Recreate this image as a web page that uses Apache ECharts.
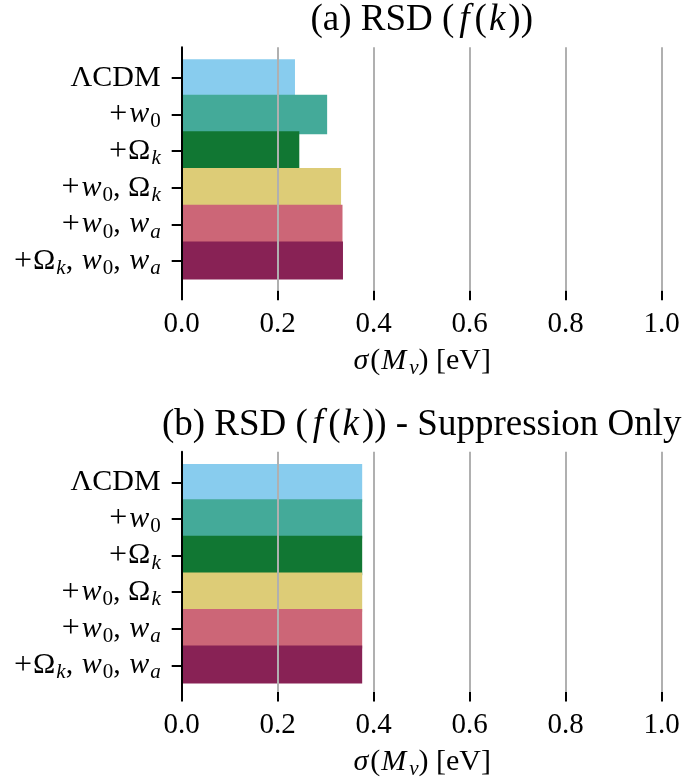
<!DOCTYPE html>
<html>
<head>
<meta charset="utf-8">
<script src="https://cdn.jsdelivr.net/npm/echarts@6/dist/echarts.min.js"></script>
<style>
  html, body { margin: 0; padding: 0; background: #fff; }
  #chart { width: 686px; height: 781px; }
</style>
</head>
<body>
<div id="chart"></div>
<script>
// Model extensions, top to bottom
const models = ['ΛCDM', '+w0', '+Ωk', '+w0,Ωk', '+w0,wa', '+Ωk,w0,wa'];
// Forecast 1σ error on the neutrino mass sum [eV]
const sigmaFull = [0.236, 0.303, 0.245, 0.332, 0.335, 0.336];
const sigmaSuppression = [0.376, 0.376, 0.376, 0.376, 0.376, 0.376];
const barColors = ['#88CCEE', '#44AA99', '#117733', '#DDCC77', '#CC6677', '#882255'];
const xTicks = [0.0, 0.2, 0.4, 0.6, 0.8, 1.0];
const panelTitles = [
  '(a) RSD ({f|f}({k|k}))',
  '(b) RSD ({f|f}({k|k})) - Suppression Only'
];
const xName = '{v|σ}({v|M}{si|ν}) [eV]';

// Math-style markup for the model labels
const modelMarkup = {
  'ΛCDM': 'ΛCDM',
  '+w0': '{p|+}{m|w}{s|0}',
  '+Ωk': '{p|+}Ω{si|k}',
  '+w0,Ωk': '{p|+}{m|w}{s|0}, Ω{si|k}',
  '+w0,wa': '{p|+}{m|w}{s|0}, {m|w}{si|a}',
  '+Ωk,w0,wa': '{p|+}Ω{si|k}, {m|w}{s|0}, {m|w}{si|a}'
};

const FONT = 'Liberation Serif';
const FS = 29;      // x tick label size
const LFS = 30;     // model label / axis title size
const TFS = 37;     // panel title size
const rich = {
  p: { fontFamily: FONT, fontSize: LFS + 2, color: '#000', padding: [0, 1, 0, 2] },
  m: { fontFamily: FONT, fontSize: LFS, fontStyle: 'italic', color: '#000', padding: [0, 0, 0, 1] },
  v: { fontFamily: FONT, fontSize: LFS, fontStyle: 'italic', color: '#000', padding: [0, 2, 0, 1] },
  s: { fontFamily: FONT, fontSize: 21, color: '#000', padding: [15, 0, 0, 1] },
  si: { fontFamily: FONT, fontSize: 21, fontStyle: 'italic', color: '#000', padding: [15, 0, 0, 1] }
};
const titleRich = {
  f: { fontFamily: FONT, fontSize: TFS, fontStyle: 'italic', color: '#000', padding: [0, 5, 0, 5] },
  k: { fontFamily: FONT, fontSize: TFS, fontStyle: 'italic', color: '#000', padding: [0, 3, 0, 2] }
};

const LEFT = 181.7, WIDTH = 480;
const panels = [
  { axisTop: 47.3, axisH: 243.4, barTop: 59.35, barH: 220.2, titleTop: 2, data: sigmaFull },
  { axisTop: 451.7, axisH: 243.3, barTop: 464.0, barH: 219.6, titleTop: 406.4, data: sigmaSuppression }
];

const grid = [], xAxis = [], yAxis = [], series = [], title = [];
panels.forEach((p, k) => {
  const gA = grid.length;
  grid.push({ left: LEFT, width: WIDTH, top: p.axisTop, height: p.axisH });
  grid.push({ left: LEFT, width: WIDTH, top: p.barTop, height: p.barH });

  // frame axes: grid lines, x ticks, tick labels, left spine
  xAxis.push({
    gridIndex: gA, type: 'value', min: xTicks[0], max: xTicks[xTicks.length - 1],
    interval: 0.2, z: 5,
    axisLine: { show: false },
    axisTick: { show: true, length: 9.5, lineStyle: { color: '#000', width: 2 } },
    axisLabel: {
      margin: 19, color: '#000', fontFamily: FONT, fontSize: FS,
      formatter: v => v.toFixed(1)
    },
    splitLine: { show: true, lineStyle: { color: '#b0b0b0', width: 2 } },
    name: xName, nameLocation: 'middle', nameGap: 52,
    nameTextStyle: { color: '#000', fontFamily: FONT, fontSize: LFS, rich: rich }
  });
  yAxis.push({
    gridIndex: gA, type: 'value', min: 0, max: 1, z: 5,
    axisLine: { show: true, lineStyle: { color: '#000', width: 2 } },
    axisTick: { show: false }, axisLabel: { show: false }, splitLine: { show: false }
  });

  // bar axes
  xAxis.push({
    gridIndex: gA + 1, type: 'value', min: xTicks[0], max: xTicks[xTicks.length - 1],
    show: false
  });
  yAxis.push({
    gridIndex: gA + 1, type: 'category', inverse: true, data: models,
    axisLine: { show: false },
    axisTick: { show: true, interval: 0, alignWithLabel: true, length: 10, lineStyle: { color: '#000', width: 2 } },
    axisLabel: {
      interval: 0, margin: 21, color: '#000', fontFamily: FONT, fontSize: LFS, rich: rich,
      formatter: v => modelMarkup[v]
    },
    splitLine: { show: false }
  });

  series.push({
    type: 'bar', xAxisIndex: gA + 1, yAxisIndex: gA + 1,
    barWidth: '107.6%', z: 2,
    data: p.data.map((v, i) => ({ value: v, itemStyle: { color: barColors[i] } })),
    emphasis: { disabled: true }
  });

  title.push({
    text: panelTitles[k], left: LEFT + WIDTH / 2, textAlign: 'center',
    top: p.titleTop, padding: 0,
    textStyle: { color: '#000', fontFamily: FONT, fontSize: TFS, fontWeight: 'normal', rich: titleRich }
  });
});

const chart = echarts.init(document.getElementById('chart'), null, { renderer: 'canvas' });
chart.setOption({
  animation: false,
  backgroundColor: '#fff',
  title: title,
  grid: grid,
  xAxis: xAxis,
  yAxis: yAxis,
  series: series
});
</script>
</body>
</html>
